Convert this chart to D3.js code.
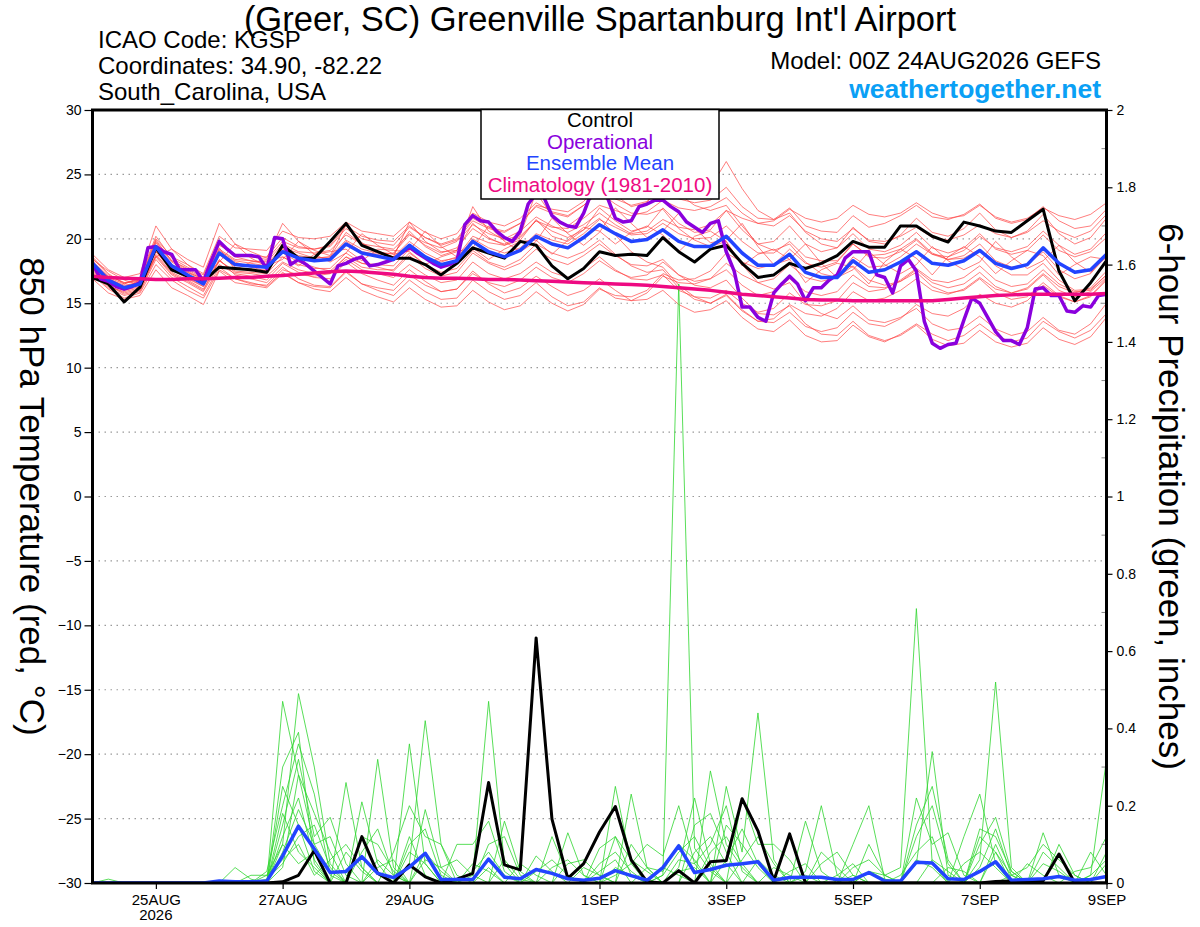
<!DOCTYPE html>
<html>
<head>
<meta charset="utf-8">
<script src="https://cdn.jsdelivr.net/npm/d3@7.9.0/dist/d3.min.js"></script>
<style>
  html, body { margin: 0; padding: 0; background: #fff; }
  svg { display: block; font-family: "Liberation Sans", Arial, Helvetica, sans-serif; }
</style>
</head>
<body>
<svg id="chart" width="1200" height="927"></svg>
<script>
// ====== DATA (6-hourly from 00Z 24AUG2026, operational is 3-hourly) ======
const titleText = "(Greer, SC) Greenville Spartanburg Int'l Airport";
const infoLines = ["ICAO Code: KGSP", "Coordinates: 34.90, -82.22", "South_Carolina, USA"];
const modelText = "Model: 00Z 24AUG2026 GEFS";
const siteText = "weathertogether.net";
const legendItems = ["Control", "Operational", "Ensemble Mean", "Climatology (1981-2010)"];

const tempTicks = [-30, -25, -20, -15, -10, -5, 0, 5, 10, 15, 20, 25, 30];
const precipTicks = [0, 0.2, 0.4, 0.6, 0.8, 1, 1.2, 1.4, 1.6, 1.8, 2];
const precipMinor = [0.1, 0.3, 0.5, 0.7, 0.9, 1.1, 1.3, 1.5, 1.7, 1.9];
const dateTicks = ["2026-08-25", "2026-08-27", "2026-08-29", "2026-09-01", "2026-09-03", "2026-09-05", "2026-09-07", "2026-09-09"];
const dateLabels = ["25AUG", "27AUG", "29AUG", "1SEP", "3SEP", "5SEP", "7SEP", "9SEP"];

const climo = [17.1,17.0,16.95,16.9,16.85,16.85,16.9,16.9,16.95,17.0,17.0,17.1,17.15,17.25,17.35,17.45,17.5,17.45,17.35,17.25,17.1,17.0,16.95,16.95,16.9,16.85,16.85,16.8,16.75,16.7,16.65,16.6,16.55,16.5,16.45,16.4,16.3,16.2,16.1,16.0,15.85,15.7,15.6,15.5,15.4,15.3,15.25,15.25,15.2,15.2,15.2,15.2,15.2,15.2,15.3,15.4,15.5,15.6,15.65,15.7,15.7,15.7,15.7,15.7,15.75];

const controlT = [17.0,16.5,15.1,16.25,19.3,17.6,17.1,16.7,17.8,17.7,17.6,17.4,19.5,18.5,18.5,19.8,21.2,19.5,19.0,18.5,18.5,18.0,17.2,18.1,19.3,18.9,18.5,19.8,19.5,17.9,16.9,17.7,19.0,18.7,18.8,18.7,20.1,19.0,18.2,19.2,19.5,18.1,17.0,17.2,18.1,17.7,18.1,18.7,19.8,19.35,19.35,21.0,21.0,20.2,19.75,21.3,21.0,20.6,20.5,21.4,22.3,17.5,15.2,16.6,18.3];

const meanT = [18.1,16.8,16.2,16.5,19.4,17.9,17.2,16.5,18.9,18.0,17.9,17.8,19.0,18.5,18.3,18.4,19.6,18.9,18.65,18.4,19.5,18.6,18.0,18.3,19.8,19.0,18.6,19.1,20.2,19.6,19.3,20.1,21.1,20.4,19.8,19.95,20.7,19.8,19.4,19.4,20.2,18.9,17.95,17.95,18.8,17.4,17.0,17.0,18.3,17.4,17.6,18.2,19.0,18.1,17.95,18.3,19.1,18.1,17.7,18.0,19.3,18.1,17.4,17.6,18.8];

const operT = [18.1,16.9,16.7,16.3,16.1,16.3,16.6,19.3,19.4,19.0,18.8,17.6,17.6,17.6,16.7,18.3,19.8,19.2,18.7,18.7,18.7,18.6,17.7,20.1,20.0,18.0,18.4,18.0,17.5,17.0,16.5,17.9,18.1,18.4,18.6,17.9,18.0,18.2,18.4,18.9,19.35,18.9,18.5,18.1,17.8,18.0,18.3,21.1,21.8,21.4,21.3,20.6,20.1,19.8,20.6,22.7,23.5,23.2,21.8,21.3,21.0,20.9,22.0,23.6,23.8,23.2,21.6,21.3,21.4,22.5,22.7,23.0,23.0,22.5,22.1,21.3,20.9,20.5,21.2,21.4,19.0,17.5,14.7,14.7,13.9,13.6,15.8,16.5,17.1,16.5,15.2,16.2,16.2,16.8,17.2,18.5,19.0,19.0,19.0,17.2,17.0,15.8,17.9,18.4,17.5,13.6,11.9,11.5,11.8,11.9,13.7,15.4,15.0,13.9,12.8,12.1,12.1,11.8,13.1,16.1,16.2,15.6,15.6,14.4,14.3,14.8,14.7,15.6,15.7];

const membersT = [
  [18.6,17.3,16.5,17.0,20.2,18.5,17.8,17.2,19.8,18.7,18.6,18.6,20.1,19.4,19.2,19.5,21.0,20.2,19.9,19.8,21.0,20.1,19.6,20.0,21.6,20.9,20.6,21.2,22.5,22.0,21.7,22.6,23.8,23.1,22.6,22.9,23.9,23.1,22.8,23.0,24.0,22.5,21.6,21.5,22.4,21.0,20.6,20.5,21.8,20.9,21.2,21.8,22.6,21.7,21.5,21.9,22.7,21.6,21.2,21.5,22.5,21.4,20.8,21.0,22.3],
  [17.6,16.4,15.7,16.0,18.6,17.2,16.6,15.9,18.0,17.3,17.1,16.8,18.1,17.4,17.0,16.9,18.2,17.3,16.8,16.4,17.6,16.7,15.9,16.1,17.5,16.5,15.8,16.2,17.1,16.3,15.6,16.0,16.9,16.0,15.2,15.3,16.0,14.9,14.3,14.5,15.2,13.9,13.0,12.8,13.7,12.5,12.0,12.1,13.3,12.4,12.0,12.6,13.4,12.6,12.1,12.5,13.4,12.5,12.0,12.3,13.6,12.8,12.3,12.9,14.2],
  [18.4,17.5,16.8,16.4,18.6,19.2,18.0,17.0,18.2,19.6,18.5,17.9,18.4,19.8,18.8,18.2,18.9,20.4,19.5,18.8,19.1,20.6,19.4,18.6,19.3,21.0,19.8,19.0,19.8,21.6,20.4,19.5,20.5,22.4,21.2,20.1,20.6,22.0,20.8,19.7,19.9,21.2,19.4,18.0,18.4,19.6,18.1,17.0,17.6,19.0,18.0,17.3,18.0,19.4,18.3,17.6,18.2,19.8,18.6,17.7,18.3,19.5,18.2,17.4,18.6],
  [17.2,16.1,15.4,15.8,18.0,16.8,16.0,15.4,17.6,16.9,16.5,16.4,17.6,17.2,17.1,17.3,18.6,18.1,18.0,17.9,19.2,18.6,18.2,18.6,20.2,19.7,19.5,20.1,21.4,20.9,20.8,21.6,22.6,22.2,21.8,22.1,23.0,22.4,22.2,22.5,23.2,22.0,21.2,21.0,21.8,20.6,20.0,19.8,20.8,19.9,19.8,20.2,20.9,20.1,19.9,20.3,21.1,20.4,20.1,20.5,21.4,20.6,20.1,20.6,21.9],
  [18.0,16.9,16.4,16.6,19.7,18.2,17.5,16.8,19.2,18.4,18.3,18.2,19.6,19.0,18.9,19.1,20.3,19.6,19.4,19.2,20.4,19.5,18.9,19.3,20.8,20.0,19.6,20.2,21.4,20.6,20.1,20.7,21.6,20.3,19.0,18.2,17.8,16.4,15.5,15.0,15.6,14.4,13.6,13.8,14.9,14.2,14.0,14.6,15.9,15.2,15.4,16.0,16.9,16.0,15.7,16.1,17.0,16.1,15.8,16.2,17.3,16.3,15.8,16.2,17.5],
  [17.9,16.6,16.0,16.9,19.0,17.5,17.4,16.9,19.3,17.6,18.2,18.3,18.6,17.9,18.8,19.0,19.2,18.3,19.2,19.1,19.0,18.0,18.6,19.0,19.3,18.4,19.2,19.8,19.9,18.8,19.9,20.9,20.6,19.6,20.5,21.0,20.3,19.0,20.2,20.6,19.8,17.9,18.8,19.2,18.4,16.6,17.6,18.1,17.8,16.5,18.2,19.2,18.5,17.2,18.6,19.4,18.6,17.3,18.3,19.1,18.7,17.2,18.0,18.6,18.4],
  [17.4,16.3,15.9,16.2,18.8,17.4,16.8,16.1,18.3,17.4,17.3,17.1,18.2,17.6,17.3,17.3,18.4,17.6,17.3,17.0,18.0,17.2,16.6,16.8,18.2,17.3,16.9,17.3,18.2,17.4,17.0,17.7,18.6,17.6,16.9,16.8,17.2,16.0,15.5,15.4,16.0,15.0,14.3,14.6,15.8,14.9,14.8,15.2,16.6,15.9,16.1,16.8,17.7,16.8,16.6,17.0,17.9,16.8,16.3,16.5,17.6,16.5,15.9,16.0,17.2],
  [18.3,17.0,16.5,16.9,20.0,18.6,18.0,17.3,20.2,19.3,19.2,19.1,20.6,20.1,20.0,20.2,21.3,20.6,20.4,20.2,21.3,20.5,20.0,20.4,22.0,21.3,21.0,21.6,22.8,22.1,21.8,22.6,23.6,22.7,22.0,21.9,22.3,20.8,19.9,19.4,19.8,18.0,16.6,16.1,16.6,15.0,14.2,13.8,14.8,13.7,13.5,13.9,14.6,13.4,12.9,13.1,14.0,13.0,12.5,12.8,13.9,12.9,12.6,13.4,15.0],
  [17.7,16.5,16.0,16.3,19.3,17.6,16.9,16.3,19.0,18.2,17.8,17.5,19.3,18.9,18.5,18.6,20.5,19.6,19.0,18.8,20.6,19.4,18.7,19.1,21.2,20.1,19.5,19.9,21.5,20.2,19.8,20.7,22.4,21.4,20.6,20.9,22.4,21.2,20.5,20.7,22.2,20.7,19.6,19.8,21.0,19.6,19.0,19.3,20.9,19.8,19.6,20.3,21.6,20.5,20.2,20.8,22.0,20.7,20.1,20.6,21.9,20.4,19.6,20.1,21.6],
  [18.2,17.1,16.6,16.8,19.1,17.7,17.0,16.3,18.4,17.2,16.9,16.6,17.8,16.9,16.4,16.3,17.5,16.5,16.0,15.6,16.8,15.9,15.3,15.4,16.8,15.9,15.3,15.6,16.6,15.5,14.8,15.1,16.2,15.4,15.2,15.8,17.1,16.6,16.5,16.9,18.1,17.2,16.6,16.9,18.0,17.0,16.7,17.0,18.6,17.8,17.9,18.6,19.6,18.8,18.6,19.1,20.2,19.3,19.0,19.4,20.6,19.5,18.8,19.2,20.5],
  [18.0,16.7,16.1,16.6,19.5,18.0,17.4,16.7,19.1,18.3,18.1,17.9,19.2,18.7,18.5,18.6,19.9,19.2,18.9,18.6,19.8,18.9,18.3,18.5,20.0,19.3,18.9,19.3,20.4,19.9,19.6,20.4,21.5,20.9,20.3,20.4,21.2,20.4,20.0,20.1,21.0,19.8,18.9,18.9,19.8,18.6,18.3,18.3,19.6,18.7,18.8,19.2,20.0,18.9,18.4,18.5,19.2,17.9,17.2,17.2,18.1,16.8,16.0,16.1,17.2],
  [17.5,16.4,15.8,16.1,18.7,17.3,16.7,16.0,18.3,17.5,17.4,17.3,18.6,18.0,17.7,17.7,18.9,18.1,17.8,17.5,18.7,17.7,17.1,17.4,18.9,18.1,17.6,18.1,19.2,18.4,18.0,18.7,19.6,18.7,18.0,17.9,18.4,17.2,16.4,16.2,16.8,15.4,14.2,14.1,14.8,13.4,12.6,12.5,13.6,12.5,12.1,12.5,13.3,12.2,11.7,11.9,12.9,12.0,11.6,11.9,13.1,12.2,11.8,12.4,13.9],
  [18.8,17.6,17.0,17.3,21.0,19.2,18.4,17.8,21.2,19.6,19.0,18.5,21.2,19.8,19.1,18.7,21.1,19.7,19.0,18.6,21.3,19.8,19.0,19.1,22.5,20.6,19.9,20.3,23.6,21.8,21.0,21.9,24.8,23.4,22.5,22.8,25.2,23.8,23.2,24.0,26.0,23.9,22.2,21.5,22.0,20.5,19.6,19.3,20.4,19.2,19.0,19.5,20.5,19.3,18.9,19.3,20.4,19.2,18.8,19.1,20.3,19.1,18.6,19.0,20.1],
  [16.9,15.8,15.3,15.6,17.6,16.2,15.6,14.9,17.5,16.6,16.4,16.2,17.3,16.6,16.3,16.2,17.4,16.5,16.2,16.0,17.2,16.4,15.9,16.1,17.3,16.6,16.3,16.8,17.8,17.0,16.6,17.3,18.3,17.5,17.0,17.2,18.2,17.2,16.7,16.9,17.6,16.4,15.6,15.9,16.9,15.9,15.6,15.9,17.2,16.3,16.2,16.7,17.6,16.6,16.2,16.5,17.4,16.3,15.8,16.1,17.2,16.0,15.5,15.9,17.0],
  [17.8,16.9,16.3,16.7,19.8,18.3,17.6,16.9,19.5,18.8,18.6,18.4,19.8,19.3,19.2,19.4,20.8,20.0,19.7,19.5,20.9,20.1,19.5,19.9,21.4,20.8,20.5,21.2,22.6,22.3,22.1,22.9,24.3,23.8,23.4,23.7,24.6,23.5,22.6,22.2,22.6,21.0,19.6,19.1,19.6,18.2,17.3,17.0,17.9,16.8,16.4,16.7,17.4,16.3,15.8,16.0,16.9,15.8,15.3,15.5,16.6,15.6,15.1,15.5,16.8],
  [17.3,16.2,15.6,15.9,18.4,17.0,16.3,15.6,17.8,16.9,16.6,16.3,17.4,16.6,16.1,15.9,17.0,16.0,15.5,15.1,16.2,15.3,14.7,14.8,16.0,15.1,14.5,14.8,15.9,15.0,14.4,14.9,16.1,15.6,15.5,16.0,17.3,16.8,16.9,17.5,18.9,18.2,17.7,18.0,19.2,18.1,17.8,18.2,19.6,18.6,18.5,19.0,19.9,18.8,18.4,18.7,19.6,18.3,17.8,18.0,19.0,17.6,16.9,17.3,18.7],
  [18.5,17.2,16.6,16.7,19.9,18.3,17.7,17.0,19.6,18.6,18.3,18.0,19.4,18.6,18.3,18.5,19.8,19.0,18.8,18.9,20.3,19.7,19.3,19.8,21.1,20.4,20.0,20.6,21.7,21.0,20.5,21.1,22.0,21.1,20.4,20.6,21.5,20.9,20.7,21.1,22.2,21.6,21.2,21.4,22.3,21.6,21.3,21.6,22.6,21.9,21.7,22.0,22.8,22.0,21.6,21.8,22.6,21.7,21.3,21.6,22.4,21.8,21.5,21.9,22.8],
  [17.8,16.7,16.1,16.4,19.0,17.7,17.1,16.5,18.8,17.8,17.5,17.6,18.9,18.2,17.8,17.5,18.6,17.8,17.6,17.6,18.9,18.0,17.4,17.7,19.1,18.2,17.8,18.4,19.6,18.9,18.5,19.0,19.9,18.8,17.9,17.4,17.6,16.2,15.3,15.0,15.7,14.5,13.6,13.5,14.3,13.2,12.8,13.1,14.3,13.4,13.2,13.8,14.9,14.2,14.0,14.6,15.7,15.0,14.7,15.2,16.4,15.5,15.1,15.6,16.9]
];

const controlP = [0,0,0,0,0,0,0,0,0,0, 0,0,0.003,0.02,0.084,0,0,0.12,0.025,0, 0.047,0.016,0,0.01,0.025,0.26,0.047,0.034,0.634,0.165, 0.012,0.05,0.132,0.198,0.06,0.003,0,0.032,0,0.055, 0.058,0.218,0.135,0.006,0.127,0,0,0,0,0, 0,0,0,0,0,0,0,0.004,0.005,0.005, 0.006,0.075,0,0,0];

const meanP = [0,0,0,0,0,0,0,0,0.005,0.003, 0.003,0.005,0.07,0.147,0.088,0.027,0.03,0.068,0.025,0.014, 0.041,0.077,0.009,0.009,0.009,0.062,0.015,0.011,0.035,0.025, 0.011,0.007,0.012,0.032,0.019,0.007,0.04,0.096,0.027,0.035, 0.046,0.05,0.055,0.007,0.014,0.015,0.015,0.009,0.009,0.027, 0.005,0.005,0.054,0.052,0.011,0.009,0.03,0.055,0.007,0.009, 0.011,0.017,0.007,0.009,0.017];

const membersP = [
  [0,0,0,0,0,0,0,0,0,0, 0,0,.47,.28,.10,.03,0,0,0,0, .05,.42,.10,0,0,.04,0,0,0,0, 0,0,0,.25,.05,0,0,.04,.22,.05, 0,0,0,0,0,.03,.2,.02,0,0, 0,0,.05,.34,.02,0,0,0,0,0, .13,.02,0,0,.05],
  [0,0,0,0,0,0,0,0,0,0, 0,.02,.10,.49,.30,.05,0,0,.32,.04, 0,0,0,0,.02,.47,.05,0,0,0, .13,.02,0,0,0,0,.02,1.55,.09,.03, 0,0,0,0,0,0,0,0,0,.03, .02,.04,.71,.05,0,0,0,0,0,0, 0,0,0,.02,.32],
  [0,0,0,0,0,0,0,0,0,.04, .01,0,.30,.39,.05,0,.26,.04,0,0, .36,.05,0,0,0,0,0,0,0,.12, .02,0,0,0,.23,.04,0,0,0,0, .25,.08,.44,.06,0,0,0,0,.1,.2, .01,0,0,0,0,0,.06,.52,.04,0, 0,0,0,0,0],
  [0,0,0,0,0,0,0,0,0,0, 0,.03,.2,.36,.23,.02,0,.21,.05,0, 0,.19,.04,0,0,0,.16,.03,0,0, 0,0,.09,.12,.02,0,0,0,0,.29, .1,.04,0,0,0,.16,.03,0,0,0, 0,0,.22,.1,.13,.02,0,0,0,.05, .02,0,0,0,0],
  [0,0,0,0,0,0,0,0,0,0, 0,0,.15,.32,.12,.17,.05,0,0,.08, .2,.12,.1,.02,0,0,0,0,.07,.03, 0,0,0,.02,.05,.1,.07,.2,.05,0, 0,.22,.1,.1,.06,0,0,0,0,0, 0,0,0,0,0,.12,.23,.05,0,0, 0,.1,.02,0,0],
  [0,0,0,0,0,0,0,0,0,0, 0,0,.12,.22,.06,0,0,.12,.1,.03, 0,0,0,.1,.1,.16,.03,0,0,0, .05,.06,.02,0,0,0,0,.06,.05,.1, .2,.03,0,0,0,0,.05,.08,.02,0, 0,0,0,.06,.03,0,.1,.17,.03,0, 0,0,0,.08,.02],
  [0,0,0,0,0,0,0,0,0,0, 0,0,.08,.19,.1,.12,.02,0,0,0, .08,.05,0,0,.03,.08,.02,0,0,0, 0,0,0,.12,.06,.03,0,0,0,.08, .12,.05,0,0,.03,.05,0,0,0,.03, .01,0,.06,.04,0,0,0,.08,.02,0, .05,.03,0,0,0],
  [0,0,0,0,0,0,0,0,0,0, 0,.01,.05,.12,.15,.04,0,0,.06,.02, 0,.08,.03,0,0,0,0,.05,.02,0, 0,0,.03,.06,0,0,.02,.08,.12,.04, 0,0,.06,.02,0,0,0,0,.04,.06, .02,0,0,0,.04,.03,0,0,.02,.04, .1,.06,.02,0,.08],
  [0,0,0,0,0,0,0,0,0,0, 0,0,.18,.08,.04,0,.08,.03,0,0, .1,.14,.02,0,0,0,0,0,0,.04, .06,.02,0,0,0,.04,.03,.1,.06,0, .06,.14,.05,0,0,0,0,.02,.05,0, 0,0,.12,.2,.05,0,.12,.08,0,0, 0,0,.03,.04,.12],
  [0,0,0,0,0,0,0,0,0,0, 0,0,.25,.15,.03,0,0,.08,.14,.02, 0,0,0,0,0,.1,.12,.02,0,0, 0,0,.05,.08,.03,0,0,0,.08,.12, .05,0,0,.04,.02,0,.08,.04,0,0, 0,.02,.08,.12,0,0,.04,.14,.02,0, 0,0,0,0,0],
  [0,.01,0,0,0,0,0,0,0,0, .02,.02,.06,.1,.02,.06,.1,.04,0,0, 0,.06,.04,.06,.02,0,0,0,.03,.06, .02,0,0,0,.1,.04,0,.03,.04,0, .15,.1,.04,0,0,0,0,0,0,.1, .02,0,0,0,0,.05,.08,.04,0,0, .08,.04,0,0,0],
  [0,0,0,0,0,0,0,0,0,0, 0,0,.04,.28,.18,.08,0,0,0,0, .12,.02,0,0,0,0,.06,.01,0,0, 0,0,0,.04,.02,0,0,0,.15,.18, .08,0,0,0,0,.02,0,0,0,0, 0,0,.15,.25,.06,0,0,.1,.01,0, 0,0,0,0,0],
  [0,0,0,0,0,0,0,0,0,0, 0,0,.1,.05,.08,0,0,0,.04,.06, 0,0,0,0,.05,.03,0,0,0,0, 0,.04,.02,0,0,0,.04,.02,0,0, 0,.06,.12,.05,0,0,0,0,.02,0, 0,0,0,0,0,0,.14,.12,.03,0, 0,0,0,.02,.06]
];

// ====== LAYOUT ======
const svg = d3.select("#chart");
const plotL = 92.5, plotR = 1106.5, plotT = 110, plotB = 883;
const t0 = Date.UTC(2026, 7, 24);
const hour = (h) => new Date(t0 + h * 3600e3);

const x = d3.scaleUtc().domain([hour(0), hour(384)]).range([plotL, plotR]);
const yT = d3.scaleLinear().domain([-30, 30]).range([plotB, plotT]);
const yP = d3.scaleLinear().domain([0, 2]).range([plotB, plotT]);

const line6 = (scale) => d3.line().x((d, i) => x(hour(i * 6))).y((d) => scale(d));
const line3 = d3.line().x((d, i) => x(hour(i * 3))).y((d) => yT(d));

svg.append("defs").append("clipPath").attr("id", "plot")
  .append("rect").attr("x", plotL).attr("y", plotT).attr("width", plotR - plotL).attr("height", plotB - plotT);

// gridlines
svg.append("g").selectAll("line")
  .data(tempTicks.filter((t) => t > -30 && t < 30))
  .join("line")
  .attr("x1", plotL).attr("x2", plotR)
  .attr("y1", (d) => yT(d)).attr("y2", (d) => yT(d))
  .attr("stroke", "#9a9a9a").attr("stroke-width", 1.2)
  .attr("stroke-dasharray", "1.5,4.5");

const plot = svg.append("g").attr("clip-path", "url(#plot)");

// ensemble members
plot.append("g").selectAll("path").data(membersT).join("path")
  .attr("d", line6(yT)).attr("fill", "none")
  .attr("stroke", "#ff4040").attr("stroke-width", 0.8).attr("stroke-opacity", 0.85);

plot.append("g").selectAll("path").data(membersP).join("path")
  .attr("d", line6(yP)).attr("fill", "none")
  .attr("stroke", "#2fd62f").attr("stroke-width", 0.8);

// main lines
const thick = [
  { data: controlP, d: line6(yP), color: "#000000", w: 3 },
  { data: controlT, d: line6(yT), color: "#000000", w: 3 },
  { data: operT, d: line3, color: "#8a00dd", w: 3.5 },
  { data: meanP, d: line6(yP), color: "#2244ff", w: 3.5 },
  { data: meanT, d: line6(yT), color: "#2244ff", w: 3.5 },
  { data: climo, d: line6(yT), color: "#ee0a82", w: 3.5 }
];
thick.forEach((s) => {
  plot.append("path").datum(s.data)
    .attr("d", s.d).attr("fill", "none")
    .attr("stroke", s.color).attr("stroke-width", s.w)
    .attr("stroke-linejoin", "round");
});

// ====== AXES ======
const axisFont = (g, size) => g.selectAll("text")
  .attr("font-size", size).attr("fill", "#000")
  .attr("font-family", "'Liberation Sans', Arial, sans-serif");

const gl = svg.append("g").attr("transform", `translate(${plotL},0)`)
  .call(d3.axisLeft(yT).tickValues(tempTicks).tickSize(8).tickPadding(3).tickFormat(d3.format("d")));
gl.select(".domain").remove();
gl.selectAll("line").attr("stroke-width", 1.2);
axisFont(gl, 14);

const gr = svg.append("g").attr("transform", `translate(${plotR},0)`)
  .call(d3.axisRight(yP).tickValues(precipTicks).tickSize(6).tickPadding(4).tickFormat(d3.format("~g")));
gr.select(".domain").remove();
gr.selectAll("line").attr("stroke-width", 1.2);
axisFont(gr, 14);

svg.append("g").selectAll("line").data(precipMinor).join("line")
  .attr("x1", plotR - 5).attr("x2", plotR)
  .attr("y1", (d) => yP(d)).attr("y2", (d) => yP(d))
  .attr("stroke", "#888").attr("stroke-width", 1);

const gb = svg.append("g").attr("transform", `translate(0,${plotB})`)
  .call(d3.axisBottom(x)
    .tickValues(dateTicks.map((d) => new Date(d + "T00:00:00Z")))
    .tickSize(6).tickPadding(5)
    .tickFormat((d, i) => dateLabels[i]));
gb.select(".domain").remove();
gb.selectAll("line").attr("stroke-width", 1.2);
axisFont(gb, 15);

svg.append("text")
  .attr("x", x(new Date(dateTicks[0] + "T00:00:00Z"))).attr("y", 920)
  .attr("text-anchor", "middle").attr("font-size", 15)
  .text("2026");

// frame
svg.append("rect")
  .attr("x", plotL).attr("y", plotT).attr("width", plotR - plotL).attr("height", plotB - plotT)
  .attr("fill", "none").attr("stroke", "#000").attr("stroke-width", 3);

// ====== LEGEND ======
const legendColors = ["#000000", "#8a00dd", "#2244ff", "#ee0a82"];
svg.append("rect")
  .attr("x", 481).attr("y", 109.5).attr("width", 238).attr("height", 89.5)
  .attr("fill", "#fff").attr("stroke", "#000").attr("stroke-width", 1.5);
svg.append("g").selectAll("text").data(legendItems).join("text")
  .attr("x", 600).attr("y", (d, i) => 127 + i * 21.7)
  .attr("text-anchor", "middle").attr("font-size", 20.5)
  .attr("fill", (d, i) => legendColors[i])
  .text((d) => d);

// ====== TITLES ======
svg.append("text").attr("x", 600).attr("y", 31)
  .attr("text-anchor", "middle").attr("font-size", 34.5).text(titleText);

svg.append("g").selectAll("text").data(infoLines).join("text")
  .attr("x", 98).attr("y", (d, i) => 48 + i * 26)
  .attr("font-size", 24).text((d) => d);

svg.append("text").attr("x", 1101).attr("y", 69)
  .attr("text-anchor", "end").attr("font-size", 24).text(modelText);
svg.append("text").attr("x", 1101).attr("y", 98)
  .attr("text-anchor", "end").attr("font-size", 26.5).attr("font-weight", "bold")
  .attr("fill", "#0aa0f5").text(siteText);

svg.append("text")
  .attr("transform", `translate(20,${(plotT + plotB) / 2}) rotate(90)`)
  .attr("text-anchor", "middle").attr("font-size", 35)
  .text("850 hPa Temperature (red, \u00B0C)");

svg.append("text")
  .attr("transform", `translate(1159,${(plotT + plotB) / 2}) rotate(90)`)
  .attr("text-anchor", "middle").attr("font-size", 35)
  .text("6-hour Precipitation (green, inches)");
</script>
</body>
</html>
